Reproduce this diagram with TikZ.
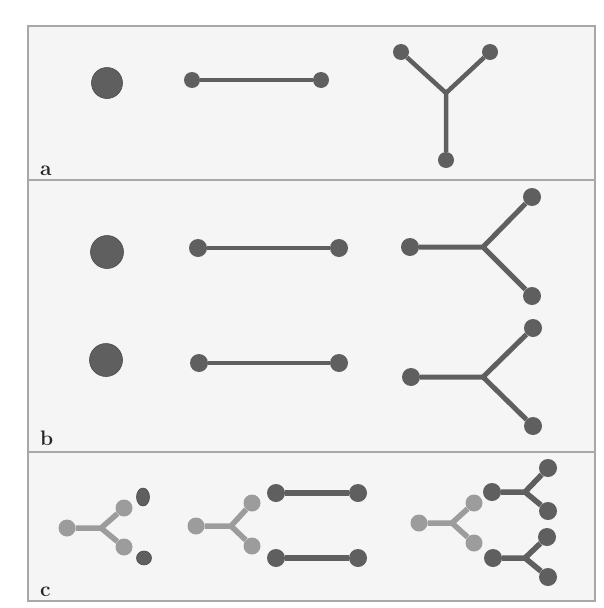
\documentclass[tikz,border=0pt]{standalone}
\usetikzlibrary{shapes.geometric}
\begin{document}
\definecolor{dk}{HTML}{5F5F5F}
\definecolor{lt}{HTML}{9C9C9C}
\definecolor{bg}{HTML}{F5F5F5}
\definecolor{fr}{HTML}{A8A8A8}
\begin{tikzpicture}[x=1pt,y=-1pt,
  panel/.style={draw=fr,fill=bg,line width=1.2pt},
  big/.style={circle,fill=dk,draw=dk!80!black,line width=0.6pt,inner sep=0pt,minimum size=#1},
  dot/.style={circle,fill=dk,inner sep=0pt,minimum size=#1},
  ldot/.style={circle,fill=lt,inner sep=0pt,minimum size=#1},
  oval/.style={ellipse,fill=dk,draw=dk!80!black,line width=0.6pt,inner sep=0pt},
  bond/.style={draw=dk,line width=#1},
  lbond/.style={draw=lt,line width=#1},
  lab/.style={font=\fontsize{21}{21}\selectfont\bfseries,text=black!85,inner sep=0pt,anchor=base west}]
\useasboundingbox (0,0) rectangle (604,608);
\fill[white] (0,0) rectangle (604,608);
% panels
\path[panel] (28,26) rectangle (595,180);
\path[panel] (28,180) rectangle (595,452);
\path[panel] (28,452) rectangle (595,601);
\node[lab] (la) at (40,175) {a};
\node[lab] (lb) at (40,445) {b};
\node[lab] (lc) at (40,596) {c};
% ---------- panel a
\node[big=31pt] (a1) at (107,83) {};
\node[dot=16pt] (a2l) at (192,80) {};
\node[dot=16pt] (a2r) at (321,80) {};
\draw[bond=4.5pt] (a2l) -- (a2r);
\coordinate (a3j) at (446,93);
\node[dot=16pt] (a3a) at (401,52) {};
\node[dot=16pt] (a3b) at (490,52) {};
\node[dot=16pt] (a3c) at (446,160) {};
\draw[bond=4.5pt] (a3a) -- (a3j) -- (a3b) (a3j) -- (a3c);
% ---------- panel b
\node[big=33pt] (b1) at (107,252) {};
\node[big=33pt] (b2) at (106,360) {};
\node[dot=18pt] (b3l) at (198,248) {};
\node[dot=18pt] (b3r) at (339,248) {};
\draw[bond=4.5pt] (b3l) -- (b3r);
\node[dot=18pt] (b4l) at (199,363) {};
\node[dot=18pt] (b4r) at (339,363) {};
\draw[bond=4.5pt] (b4l) -- (b4r);
\coordinate (b5j) at (483,247);
\node[dot=18pt] (b5a) at (410,247) {};
\node[dot=18pt] (b5b) at (532,197) {};
\node[dot=18pt] (b5c) at (532,296) {};
\draw[bond=5pt] (b5a) -- (b5j) (b5j) -- (b5b) (b5j) -- (b5c);
\coordinate (b6j) at (483,377);
\node[dot=18pt] (b6a) at (411,377) {};
\node[dot=18pt] (b6b) at (533,328) {};
\node[dot=18pt] (b6c) at (533,426) {};
\draw[bond=5pt] (b6a) -- (b6j) (b6j) -- (b6b) (b6j) -- (b6c);
% ---------- panel c, group 1
\coordinate (c1j) at (101,528);
\node[ldot=17pt] (c1a) at (67,528) {};
\node[ldot=17pt] (c1b) at (124,508) {};
\node[ldot=17pt] (c1c) at (124,547) {};
\draw[lbond=5.5pt] (c1a) -- (c1j) (c1j) -- (c1b) (c1j) -- (c1c);
\node[oval,minimum width=13pt,minimum height=18pt] (c1d) at (143,497) {};
\node[oval,minimum width=15pt,minimum height=14pt] (c1e) at (144,558) {};
% group 2
\coordinate (c2j) at (231,526);
\node[ldot=17pt] (c2a) at (196,526) {};
\node[ldot=17pt] (c2b) at (252,503) {};
\node[ldot=17pt] (c2c) at (252,546) {};
\draw[lbond=5.5pt] (c2a) -- (c2j) (c2j) -- (c2b) (c2j) -- (c2c);
\node[dot=18pt] (c2d) at (276,493) {};
\node[dot=18pt] (c2e) at (358,493) {};
\draw[bond=5.5pt] (c2d) -- (c2e);
\node[dot=18pt] (c2f) at (276,558) {};
\node[dot=18pt] (c2g) at (358,558) {};
\draw[bond=5.5pt] (c2f) -- (c2g);
% group 3
\coordinate (c3j) at (452,523);
\node[ldot=17pt] (c3a) at (419,523) {};
\node[ldot=17pt] (c3b) at (474,503) {};
\node[ldot=17pt] (c3c) at (474,543) {};
\draw[lbond=5.5pt] (c3a) -- (c3j) (c3j) -- (c3b) (c3j) -- (c3c);
\coordinate (c4j) at (525,492);
\node[dot=18pt] (c4a) at (492,492) {};
\node[dot=18pt] (c4b) at (548,468) {};
\node[dot=18pt] (c4c) at (548,511) {};
\draw[bond=5.5pt] (c4a) -- (c4j) (c4j) -- (c4b) (c4j) -- (c4c);
\coordinate (c5j) at (525,558);
\node[dot=18pt] (c5a) at (493,558) {};
\node[dot=18pt] (c5b) at (547,537) {};
\node[dot=18pt] (c5c) at (548,577) {};
\draw[bond=5.5pt] (c5a) -- (c5j) (c5j) -- (c5b) (c5j) -- (c5c);
\end{tikzpicture}
\end{document}
